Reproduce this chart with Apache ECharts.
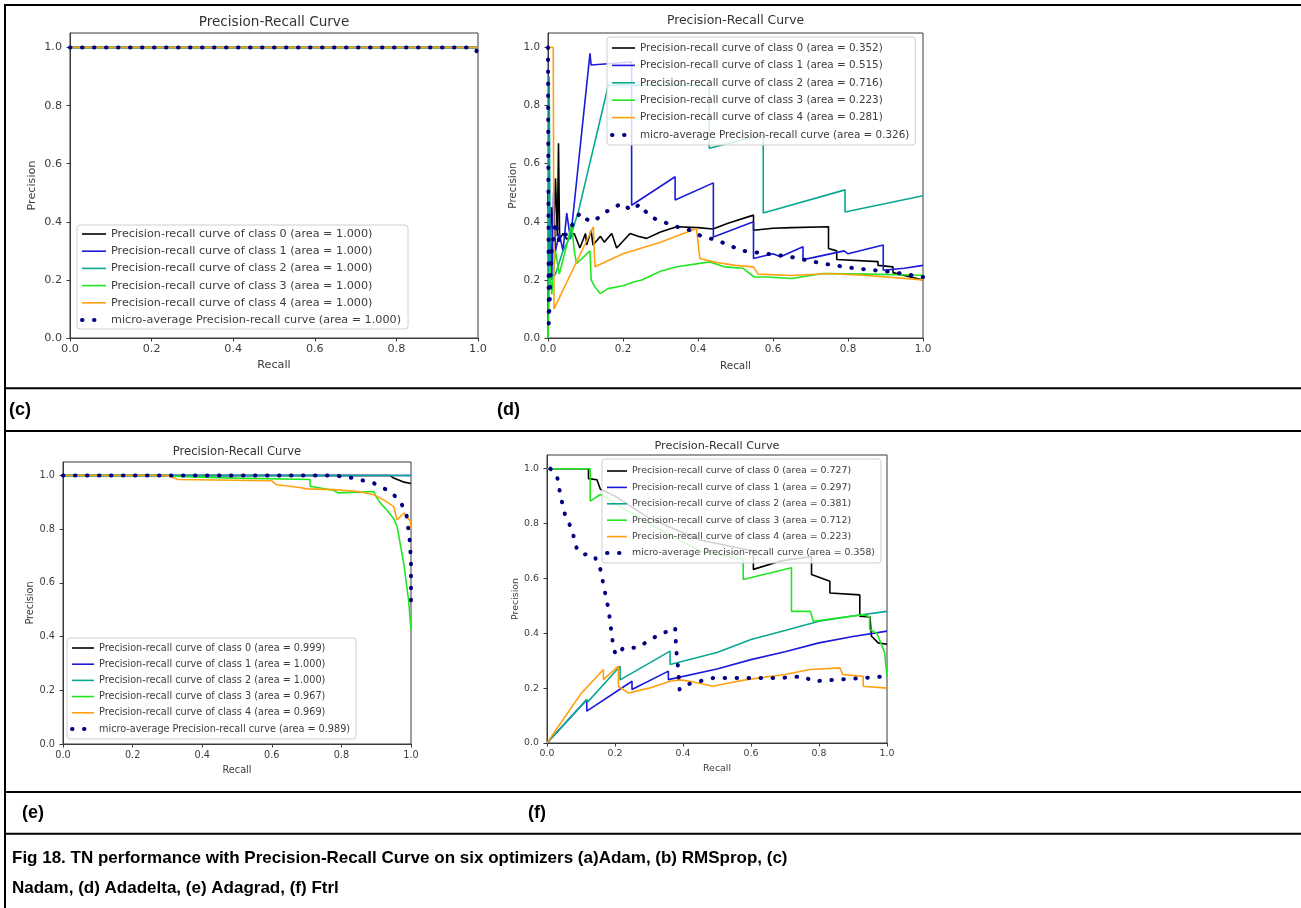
<!DOCTYPE html>
<html><head><meta charset="utf-8">
<script src="https://cdn.jsdelivr.net/npm/echarts@6/dist/echarts.min.js"></script>
<style>html,body{margin:0;padding:0;background:#fff}#chart{width:1301px;height:908px}</style>
</head><body><div id="chart"></div><script>
// ---------- tick labels ----------
const RECALL_TICKS = [0, 0.2, 0.4, 0.6, 0.8, 1.0];
const PRECISION_TICKS = [0, 0.2, 0.4, 0.6, 0.8, 1.0];
const CLASS_IDS = [0, 1, 2, 3, 4];
const PANEL_LABELS = ['(c)', '(d)', '(e)', '(f)'];
const PANEL_TITLE = 'Precision-Recall Curve';
const CAPTION_1 = 'Fig 18. TN performance with Precision-Recall Curve on six optimizers (a)Adam, (b) RMSprop, (c)';
const CAPTION_2 = 'Nadam, (d) Adadelta, (e) Adagrad, (f) Ftrl';

// ---------- areas (legend) ----------
const C_AREAS = ['1.000', '1.000', '1.000', '1.000', '1.000'];
const C_MICRO_AREA = '1.000';
const D_AREAS = ['0.352', '0.515', '0.716', '0.223', '0.281'];
const D_MICRO_AREA = '0.326';
const E_AREAS = ['0.999', '1.000', '1.000', '0.967', '0.969'];
const E_MICRO_AREA = '0.989';
const F_AREAS = ['0.727', '0.297', '0.381', '0.712', '0.223'];
const F_MICRO_AREA = '0.358';

// ---------- panel (c) Nadam : [recall, precision] ----------
const C_CLASS0 = [[0, 1], [1, 1]];
const C_CLASS1 = [[0, 1], [1, 1]];
const C_CLASS2 = [[0, 1], [1, 1]];
const C_CLASS3 = [[0, 1], [1, 1]];
const C_CLASS4 = [[0, 1], [1, 1]];
const C_MICRO = [[0, 1], [0.99, 1], [0.996, 0.99], [1, 0.96]];

// ---------- panel (d) Adadelta ----------
const D_CLASS0 = [[0, 0.5], [0.005, 0.3], [0.01, 0.45], [0.015, 0.34], [0.02, 0.55], [0.025, 0.35], [0.028, 0.67], [0.031, 0.34], [0.04, 0.36], [0.05, 0.34], [0.07, 0.36], [0.085, 0.31], [0.1, 0.36], [0.103, 0.32], [0.115, 0.37], [0.12, 0.32], [0.14, 0.35], [0.15, 0.33], [0.17, 0.36], [0.183, 0.31], [0.219, 0.36], [0.24, 0.35], [0.263, 0.343], [0.3, 0.365], [0.343, 0.383], [0.4, 0.38], [0.44, 0.375], [0.48, 0.395], [0.548, 0.423], [0.548, 0.371], [0.6, 0.378], [0.65, 0.38], [0.748, 0.383], [0.748, 0.308], [0.77, 0.3], [0.77, 0.27], [0.88, 0.263], [0.88, 0.25], [0.92, 0.245], [0.92, 0.225], [1.0, 0.2]];
const D_CLASS1 = [[0, 0.05], [0.005, 0.45], [0.01, 0.2], [0.015, 0.5], [0.02, 0.3], [0.03, 0.36], [0.04, 0.3], [0.05, 0.43], [0.06, 0.34], [0.112, 0.98], [0.115, 0.94], [0.223, 0.95], [0.223, 0.457], [0.339, 0.555], [0.339, 0.475], [0.441, 0.534], [0.441, 0.348], [0.548, 0.4], [0.548, 0.274], [0.6, 0.29], [0.62, 0.28], [0.68, 0.314], [0.68, 0.27], [0.7, 0.275], [0.79, 0.3], [0.8, 0.29], [0.894, 0.32], [0.894, 0.233], [0.95, 0.24], [1.0, 0.25]];
const D_CLASS2 = [[0, 0], [0.003, 0.9], [0.006, 0.2], [0.02, 0.22], [0.04, 0.3], [0.06, 0.35], [0.08, 0.43], [0.161, 0.871], [0.43, 0.87], [0.43, 0.653], [0.574, 0.7], [0.574, 0.43], [0.792, 0.51], [0.792, 0.434], [1.0, 0.49]];
const D_CLASS3 = [[0, 0], [0.005, 0.25], [0.01, 0.15], [0.02, 0.3], [0.03, 0.22], [0.05, 0.32], [0.063, 0.39], [0.07, 0.3], [0.076, 0.256], [0.112, 0.3], [0.115, 0.2], [0.125, 0.176], [0.139, 0.153], [0.16, 0.17], [0.2, 0.18], [0.228, 0.193], [0.25, 0.2], [0.3, 0.23], [0.343, 0.245], [0.432, 0.262], [0.47, 0.245], [0.52, 0.24], [0.55, 0.21], [0.583, 0.21], [0.65, 0.205], [0.734, 0.222], [0.85, 0.22], [1.0, 0.216]];
const D_CLASS4 = [[0, 1], [0.014, 1], [0.016, 0.1], [0.121, 0.383], [0.125, 0.245], [0.2, 0.29], [0.3, 0.33], [0.396, 0.377], [0.405, 0.274], [0.45, 0.26], [0.5, 0.25], [0.548, 0.245], [0.56, 0.22], [0.65, 0.215], [0.75, 0.222], [0.85, 0.215], [1.0, 0.2]];
const D_MICRO = [[0, 1], [0.002, 0.05], [0.01, 0.3], [0.02, 0.4], [0.03, 0.33], [0.05, 0.36], [0.07, 0.4], [0.085, 0.43], [0.1, 0.41], [0.12, 0.4], [0.15, 0.43], [0.174, 0.45], [0.2, 0.463], [0.22, 0.44], [0.245, 0.46], [0.272, 0.417], [0.307, 0.4], [0.343, 0.383], [0.379, 0.371], [0.41, 0.35], [0.45, 0.337], [0.5, 0.31], [0.52, 0.3], [0.583, 0.29], [0.645, 0.28], [0.7, 0.265], [0.734, 0.256], [0.823, 0.239], [0.912, 0.228], [1.0, 0.21]];

// ---------- panel (e) Adagrad ----------
const E_CLASS0 = [[0, 1], [0.94, 1], [0.95, 0.99], [0.97, 0.98], [0.98, 0.975], [1, 0.97]];
const E_CLASS1 = [[0, 1], [1, 1]];
const E_CLASS2 = [[0, 1], [1, 1]];
const E_CLASS3 = [[0, 1], [0.3, 1], [0.35, 0.995], [0.5, 0.99], [0.71, 0.985], [0.71, 0.96], [0.777, 0.945], [0.79, 0.935], [0.893, 0.94], [0.9, 0.92], [0.912, 0.897], [0.93, 0.872], [0.95, 0.84], [0.96, 0.81], [0.979, 0.673], [0.993, 0.537], [1.0, 0.425]];
const E_CLASS4 = [[0, 1], [0.3, 1], [0.33, 0.985], [0.6, 0.98], [0.614, 0.965], [0.68, 0.955], [0.7, 0.95], [0.777, 0.947], [0.85, 0.94], [0.893, 0.928], [0.92, 0.91], [0.95, 0.885], [0.96, 0.835], [0.98, 0.86], [0.998, 0.83], [1.0, 0.8]];
const E_MICRO = [[0, 1], [0.78, 1], [0.835, 0.99], [0.893, 0.971], [0.94, 0.94], [0.97, 0.903], [0.988, 0.847], [0.997, 0.75], [1.0, 0.673], [1.0, 0.51]];

// ---------- panel (f) Ftrl ----------
const F_CLASS0 = [[0, 1], [0.122, 1], [0.122, 0.964], [0.147, 0.96], [0.157, 0.925], [0.2, 0.9], [0.3, 0.82], [0.45, 0.74], [0.607, 0.7], [0.607, 0.633], [0.685, 0.663], [0.778, 0.68], [0.778, 0.614], [0.832, 0.59], [0.832, 0.547], [0.92, 0.54], [0.92, 0.462], [0.95, 0.46], [0.954, 0.39], [0.974, 0.365], [1.0, 0.36]];
const F_CLASS1 = [[0, 0], [0.117, 0.158], [0.117, 0.116], [0.25, 0.225], [0.25, 0.195], [0.357, 0.262], [0.357, 0.231], [0.5, 0.27], [0.6, 0.304], [0.7, 0.333], [0.8, 0.365], [0.9, 0.388], [1.0, 0.408]];
const F_CLASS2 = [[0, 0], [0.117, 0.158], [0.12, 0.15], [0.215, 0.28], [0.215, 0.23], [0.362, 0.335], [0.362, 0.286], [0.5, 0.33], [0.6, 0.377], [0.7, 0.41], [0.8, 0.444], [0.9, 0.463], [1.0, 0.48]];
const F_CLASS3 = [[0, 1], [0.127, 1], [0.127, 0.882], [0.157, 0.906], [0.3, 0.8], [0.45, 0.7], [0.577, 0.67], [0.577, 0.596], [0.719, 0.639], [0.719, 0.48], [0.775, 0.48], [0.783, 0.444], [0.93, 0.468], [0.949, 0.46], [0.949, 0.414], [0.97, 0.4], [0.993, 0.33], [1.0, 0.243]];
const F_CLASS4 = [[0, 0], [0.05, 0.09], [0.1, 0.18], [0.166, 0.268], [0.166, 0.231], [0.21, 0.28], [0.21, 0.207], [0.24, 0.182], [0.3, 0.2], [0.362, 0.225], [0.39, 0.23], [0.42, 0.225], [0.489, 0.207], [0.52, 0.215], [0.587, 0.231], [0.7, 0.25], [0.773, 0.268], [0.861, 0.274], [0.87, 0.25], [0.93, 0.243], [0.93, 0.207], [1.0, 0.2]];
const F_MICRO = [[0.01, 1], [0.03, 0.97], [0.04, 0.9], [0.054, 0.827], [0.073, 0.78], [0.088, 0.706], [0.108, 0.687], [0.125, 0.69], [0.142, 0.675], [0.157, 0.633], [0.171, 0.547], [0.181, 0.487], [0.19, 0.4], [0.196, 0.34], [0.205, 0.32], [0.225, 0.347], [0.264, 0.347], [0.323, 0.39], [0.377, 0.42], [0.38, 0.34], [0.386, 0.268], [0.39, 0.195], [0.41, 0.213], [0.489, 0.237], [0.6, 0.237], [0.685, 0.237], [0.753, 0.243], [0.783, 0.225], [0.88, 0.233], [1.0, 0.243]];

// ---------- layout / style (not data) ----------
const CLASS_COLORS = ['#000000', '#1a1ad8', '#0aa890', '#22e622', '#ffa010'];
const MICRO_COLOR = '#000080';
const FONT = '"DejaVu Sans", sans-serif';
const BOLD = 'bold {s}px "Liberation Sans", Arial, sans-serif';

const PANELS = [
  { classes: [C_CLASS0, C_CLASS1, C_CLASS2, C_CLASS3, C_CLASS4], micro: C_MICRO, areas: C_AREAS, microArea: C_MICRO_AREA,
    grid: { left: 70, top: 33, width: 408, height: 305 }, titleY: 22, fs: 11.2, tfs: 13.6, lfs: 11.2,
    leg: { left: 77, top: 225, gap: 5.2, iw: 24, pad: [3, 7, 3, 3] }, yGap: 32, xGap: 22, label: { x: 9, y: 410 } },
  { classes: [D_CLASS0, D_CLASS1, D_CLASS2, D_CLASS3, D_CLASS4], micro: D_MICRO, areas: D_AREAS, microArea: D_MICRO_AREA,
    grid: { left: 548, top: 33, width: 375, height: 305 }, titleY: 21, fs: 10.4, tfs: 12.4, lfs: 10.4,
    leg: { left: 607, top: 37, gap: 5.4, iw: 23, pad: [5, 6, 4, 3] }, yGap: 30, xGap: 23, label: { x: 497, y: 410 } },
  { classes: [E_CLASS0, E_CLASS1, E_CLASS2, E_CLASS3, E_CLASS4], micro: E_MICRO, areas: E_AREAS, microArea: E_MICRO_AREA,
    grid: { left: 63, top: 462, width: 348, height: 282 }, titleY: 452, fs: 9.7, tfs: 11.6, lfs: 9.7,
    leg: { left: 67, top: 638, gap: 4.2, iw: 22, pad: [4, 6, 4, 3] }, yGap: 26, xGap: 21, label: { x: 22, y: 813 } },
  { classes: [F_CLASS0, F_CLASS1, F_CLASS2, F_CLASS3, F_CLASS4], micro: F_MICRO, areas: F_AREAS, microArea: F_MICRO_AREA,
    grid: { left: 547, top: 455, width: 340, height: 288 }, titleY: 446, fs: 9.4, tfs: 11.3, lfs: 9.4,
    leg: { left: 602, top: 459, gap: 4.4, iw: 20, pad: [6, 6, 4, 3] }, yGap: 27, xGap: 21, label: { x: 528, y: 813 } }
];

const grids = [], xAxes = [], yAxes = [], series = [], legends = [], graphics = [];
const fmt = v => (v > 1.001 ? '' : v.toFixed(1));

PANELS.forEach((p, i) => {
  grids.push(Object.assign({ show: true, borderColor: '#3a3a3a', borderWidth: 1, backgroundColor: '#fff', containLabel: false }, p.grid));
  const axisCommon = {
    gridIndex: i, type: 'value', splitLine: { show: false },
    axisLine: { show: true, lineStyle: { color: '#3a3a3a', width: 1 } },
    axisTick: { show: true, length: 3.5, lineStyle: { color: '#3a3a3a', width: 1 } },
    axisLabel: { fontFamily: FONT, fontSize: p.fs, color: '#3c3c3c', formatter: fmt },
    nameLocation: 'middle', nameTextStyle: { fontFamily: FONT, fontSize: p.fs, color: '#3c3c3c' }
  };
  xAxes.push(Object.assign({}, axisCommon, {
    min: 0, max: 1, interval: 0.2, name: 'Recall', nameGap: p.xGap,
    axisLabel: Object.assign({}, axisCommon.axisLabel, { margin: 6, customValues: RECALL_TICKS }),
    axisTick: Object.assign({}, axisCommon.axisTick, { customValues: RECALL_TICKS })
  }));
  yAxes.push(Object.assign({}, axisCommon, {
    min: 0, max: 1.05, interval: 0.2, name: 'Precision', nameGap: p.yGap, nameRotate: 90,
    axisLabel: Object.assign({}, axisCommon.axisLabel, { margin: 8, customValues: PRECISION_TICKS }),
    axisTick: Object.assign({}, axisCommon.axisTick, { customValues: PRECISION_TICKS })
  }));
  const names = [];
  CLASS_IDS.forEach(c => {
    const name = 'Precision-recall curve of class ' + c + ' (area = ' + p.areas[c] + ')';
    names.push(name);
    series.push({
      type: 'line', name, data: p.classes[c], xAxisIndex: i, yAxisIndex: i,
      symbol: 'none', showSymbol: false, animation: false, silent: true, z: 2,
      lineStyle: { color: CLASS_COLORS[c], width: 1.6 }, itemStyle: { color: CLASS_COLORS[c] }
    });
  });
  const mname = 'micro-average Precision-recall curve (area = ' + p.microArea + ')';
  names.push(mname);
  series.push({
    type: 'line', name: mname, data: p.micro, xAxisIndex: i, yAxisIndex: i,
    symbol: 'none', showSymbol: false, animation: false, silent: true, z: 3,
    lineStyle: { color: MICRO_COLOR, width: 4, type: [0.5, 11.5], cap: 'round' }, itemStyle: { color: MICRO_COLOR }
  });
  legends.push({
    data: names, orient: 'vertical', left: p.leg.left, top: p.leg.top, padding: p.leg.pad,
    itemWidth: p.leg.iw, itemHeight: 8, itemGap: p.leg.gap, selectedMode: false,
    backgroundColor: 'rgba(255,255,255,0.82)', borderColor: '#cfcfcf', borderWidth: 1, borderRadius: 3,
    lineStyle: { width: 'inherit' },
    itemStyle: { color: 'rgba(0,0,0,0)', borderWidth: 0, opacity: 0 },
    textStyle: { fontFamily: FONT, fontSize: p.lfs, color: '#3c3c3c', lineHeight: 12 }
  });
  graphics.push({ type: 'text', x: p.grid.left + p.grid.width / 2, y: p.titleY, z: 10,
    style: { text: PANEL_TITLE, font: p.tfs + 'px ' + FONT, fill: '#333', align: 'center', verticalAlign: 'middle' } });
  graphics.push({ type: 'text', x: p.label.x, y: p.label.y, z: 10,
    style: { text: PANEL_LABELS[i], font: BOLD.replace('{s}', 18), fill: '#000', align: 'left', verticalAlign: 'middle' } });
});

// table rules
[[4, 5, 1301, 5], [5, 4, 5, 908], [5, 388.3, 1301, 388.3], [5, 431, 1301, 431], [5, 792, 1301, 792], [5, 833.7, 1301, 833.7]]
  .forEach(l => graphics.push({ type: 'line', z: 10, shape: { x1: l[0], y1: l[1], x2: l[2], y2: l[3] }, style: { stroke: '#000', lineWidth: 2 } }));
// caption
graphics.push({ type: 'text', x: 12, y: 858, z: 10, style: { text: CAPTION_1, font: BOLD.replace('{s}', 17), fill: '#000', align: 'left', verticalAlign: 'middle' } });
graphics.push({ type: 'text', x: 12, y: 888, z: 10, style: { text: CAPTION_2, font: BOLD.replace('{s}', 17), fill: '#000', align: 'left', verticalAlign: 'middle' } });

const chart = echarts.init(document.getElementById('chart'), null, { renderer: 'canvas' });
chart.setOption({
  backgroundColor: '#fff', animation: false,
  grid: grids, xAxis: xAxes, yAxis: yAxes, series, legend: legends, graphic: graphics
});
</script></body></html>
